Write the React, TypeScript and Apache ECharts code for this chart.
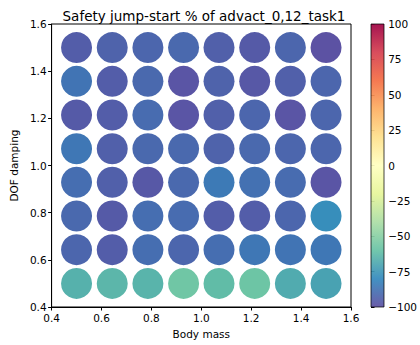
import React, { useEffect, useRef } from "react";
import * as echarts from "echarts";

const xValues = [0.5, 0.643, 0.786, 0.929, 1.071, 1.214, 1.357, 1.5];
const yValues = [0.5, 0.643, 0.786, 0.929, 1.071, 1.214, 1.357, 1.5];
// rows from y=0.5 (bottom) to y=1.5 (top)
const row050 = [-66, -64, -65, -57, -62, -58, -68, -71];
const row064 = [-92, -95, -89, -92, -89, -86, -87, -86];
const row079 = [-91, -96, -89, -90, -95, -95, -92, -78];
const row093 = [-89, -94, -97, -91, -85, -88, -90, -98];
const row107 = [-86, -94, -91, -91, -93, -91, -92, -92];
const row121 = [-96, -95, -90, -98, -94, -92, -98, -92];
const row136 = [-87, -95, -91, -98, -93, -97, -94, -92];
const row150 = [-95, -93, -92, -91, -94, -96, -92, -99];
const rows = [row050, row064, row079, row093, row107, row121, row136, row150];

const spectralR = [
  "#5e4fa2", "#3288bd", "#66c2a5", "#abdda4", "#e6f598", "#ffffbf",
  "#fee08b", "#fdae61", "#f46d43", "#d53e4f", "#9e0142",
];

const FONT = "DejaVu Sans";
const minus = (s: string) => s.replace("-", "\u2212");

export default function App() {
  const ref = useRef<HTMLDivElement>(null);
  useEffect(() => {
    if (!ref.current) return;
    const chart = echarts.init(ref.current, undefined, { renderer: "svg" });
    const data: number[][] = [];
    rows.forEach((r, j) => r.forEach((v, i) => data.push([xValues[i], yValues[j], v])));

    const plot = { left: 47, top: 24, width: 304, height: 283 };
    const cb = { left: 371, top: 24, width: 13, height: 283 };

    chart.setOption({
      animation: false,
      backgroundColor: "#fff",
      title: {
        text: "Safety jump-start % of advact_0,12_task1",
        left: plot.left + plot.width / 2,
        textAlign: "center",
        top: 4,
        textStyle: { fontFamily: FONT, fontSize: 13.5, fontWeight: "normal", color: "#000" },
      },
      grid: [
        { ...plot, show: true, borderColor: "#000", borderWidth: 1, backgroundColor: "transparent" },
        { ...cb, show: false },
      ],
      xAxis: [
        {
          gridIndex: 0, type: "value", min: 0.4, max: 1.6, interval: 0.2,
          name: "Body mass", nameLocation: "middle", nameGap: 21,
          nameTextStyle: { fontFamily: FONT, fontSize: 10.5, color: "#000" },
          axisLine: { show: true, lineStyle: { color: "#000" } },
          axisTick: { show: true, length: 3.5, lineStyle: { color: "#000" } },
          axisLabel: { fontFamily: FONT, fontSize: 10.5, color: "#000", margin: 5, formatter: (v: number) => v.toFixed(1) },
          splitLine: { show: false },
        },
        { gridIndex: 1, type: "value", min: 0, max: 1, show: false },
      ],
      yAxis: [
        {
          gridIndex: 0, type: "value", min: 0.4, max: 1.6, interval: 0.2,
          name: "DOF damping", nameLocation: "middle", nameGap: 32, nameRotate: 90,
          nameTextStyle: { fontFamily: FONT, fontSize: 10.5, color: "#000" },
          axisLine: { show: true, lineStyle: { color: "#000" } },
          axisTick: { show: true, length: 3.5, lineStyle: { color: "#000" } },
          axisLabel: { fontFamily: FONT, fontSize: 10.5, color: "#000", margin: 5, formatter: (v: number) => v.toFixed(1) },
          splitLine: { show: false },
        },
        {
          gridIndex: 1, type: "value", min: -100, max: 100, interval: 25, position: "right",
          axisLine: { show: false },
          axisTick: { show: true, length: 3.5, lineStyle: { color: "#000" } },
          axisLabel: { fontFamily: FONT, fontSize: 10.5, color: "#000", margin: 5, formatter: (v: number) => minus(String(v)) },
          splitLine: { show: false },
        },
      ],
      visualMap: {
        show: false, type: "continuous", min: -100, max: 100, dimension: 2, seriesIndex: 0,
        inRange: { color: spectralR },
      },
      series: [
        {
          type: "scatter", xAxisIndex: 0, yAxisIndex: 0, data, symbolSize: 31,
          itemStyle: { opacity: 1 },
        },
      ],
      graphic: [
        {
          type: "rect",
          shape: { x: cb.left, y: cb.top, width: cb.width, height: cb.height },
          style: {
            fill: new echarts.graphic.LinearGradient(0, 1, 0, 0,
              spectralR.map((c, i) => ({ offset: i / (spectralR.length - 1), color: c }))),
            stroke: "#000", lineWidth: 0.8, opacity: 0.92,
          },
          z: 10,
        },
      ],
    });
    return () => chart.dispose();
  }, []);
  return <div ref={ref} style={{ position: "fixed", left: 0, top: 0, width: 420, height: 345 }} />;
}
